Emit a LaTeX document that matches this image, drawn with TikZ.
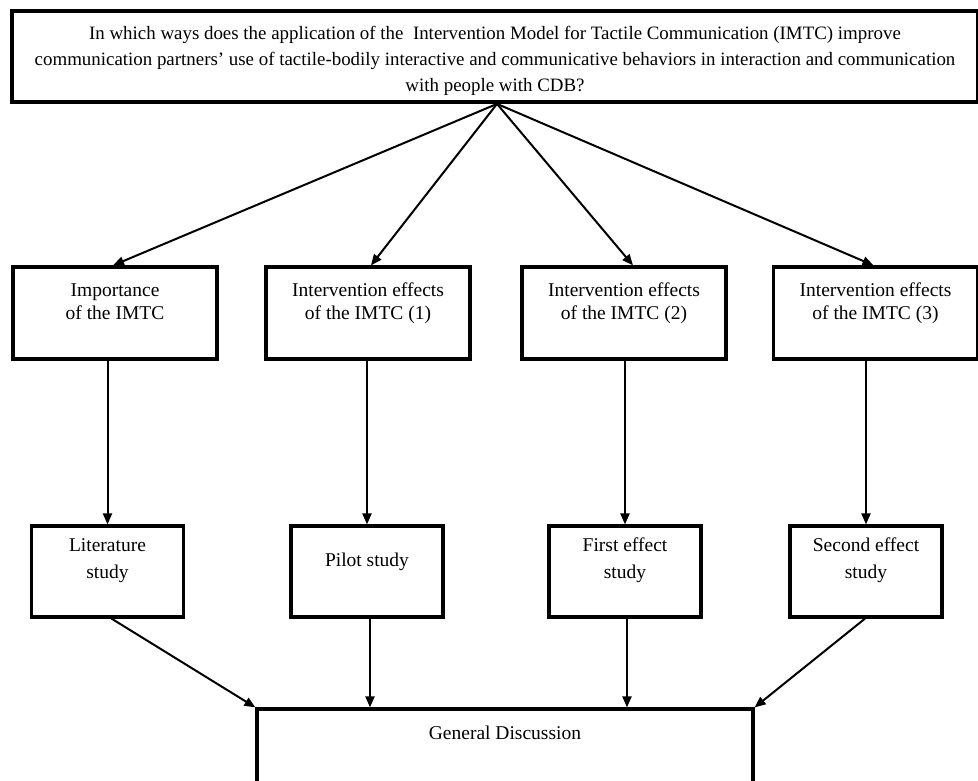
\documentclass[tikz,border=0pt]{standalone}
\usepackage{fontspec}
\setmainfont{Liberation Serif}
\usetikzlibrary{arrows.meta}
\newcommand{\bxt}[4]{\parbox[c][#2][t]{#1}{\centering\rule{0pt}{#3}#4\par}}
\begin{document}
\begin{tikzpicture}[x=1pt,y=-1pt,
  box/.style={draw, line width=3.2pt, inner sep=0pt, line join=miter},
  arr/.style={line width=2pt, -{Triangle[length=11pt,width=9pt]}},
  midfont/.style={font=\fontsize{19.5}{23}\selectfont},
  stufont/.style={font=\fontsize{19.5}{27}\selectfont}]
\clip (0,0) rectangle (978,781);
\fill[white] (0,0) rectangle (978,781);
\node[box, line width=3.8pt, font=\fontsize{18.9}{26}\selectfont] (top) at (495,56.5)
  {\bxt{966pt}{91pt}{29pt}{\mbox{In which ways does the application of the~ Intervention Model for Tactile Communication (IMTC) improve}\\
   \mbox{communication partners’ use of tactile-bodily interactive and communicative behaviors in interaction and communication}\\
   \mbox{with people with CDB?}}};
\node[box, midfont] (m1) at (115,313) {\bxt{204pt}{92pt}{29pt}{Importance\\of the IMTC}};
\node[box, midfont] (m2) at (368,313) {\bxt{204pt}{92pt}{29pt}{Intervention effects\\of the IMTC (1)}};
\node[box, midfont] (m3) at (624,313) {\bxt{204pt}{92pt}{29pt}{Intervention effects\\of the IMTC (2)}};
\node[box, midfont] (m4) at (875.5,313) {\bxt{204pt}{92pt}{29pt}{Intervention effects\\of the IMTC (3)}};
\node[box, stufont] (s1) at (107.5,571.5) {\bxt{152pt}{91pt}{25pt}{Literature\\study}};
\node[box, stufont] (s2) at (367,571.5) {\bxt{152pt}{91pt}{40pt}{Pilot study}};
\node[box, stufont] (s3) at (625,571.5) {\bxt{152pt}{91pt}{25pt}{First effect\\study}};
\node[box, stufont] (s4) at (866,571.5) {\bxt{152pt}{91pt}{25pt}{Second effect\\study}};
\node[box, stufont] (gd) at (505,755) {\bxt{496pt}{92pt}{30pt}{General Discussion}};
\draw[arr] ([xshift=2pt]top.south) -- ([xshift=-2pt]m1.north);
\draw[arr] ([xshift=2pt]top.south) -- ([xshift=3pt]m2.north);
\draw[arr] ([xshift=2pt]top.south) -- ([xshift=9pt]m3.north);
\draw[arr] ([xshift=2pt]top.south) -- ([xshift=-2pt]m4.north);
\draw[arr] (m1.south -| s1.north) -- (s1.north);
\draw[arr] (m2.south -| s2.north) -- (s2.north);
\draw[arr] (m3.south -| s3.north) -- (s3.north);
\draw[arr] (m4.south -| s4.north) -- (s4.north);
\draw[arr] ([xshift=4pt]s1.south) -- (gd.north west);
\draw[arr] ([xshift=3pt]s2.south) -- ([xshift=3pt]s2.south |- gd.north);
\draw[arr] ([xshift=2pt]s3.south) -- ([xshift=2pt]s3.south |- gd.north);
\draw[arr] ([xshift=-1pt]s4.south) -- (gd.north east);
\end{tikzpicture}
\end{document}
